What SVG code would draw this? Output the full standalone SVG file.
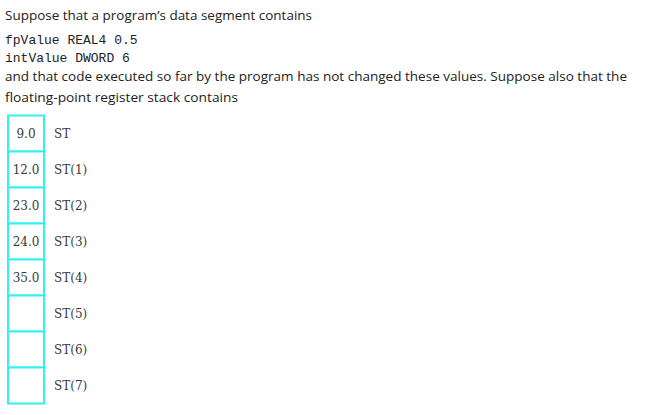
<svg xmlns="http://www.w3.org/2000/svg" width="650" height="415" viewBox="0 0 650 415">
<style>
.p{font-family:"Open Sans","DejaVu Sans",sans-serif;font-size:13px;fill:#222}
.m{font-family:"Liberation Mono","Courier New",monospace;font-size:13px;fill:#222}
.cell{fill:#fff;stroke:#33f0f5;stroke-width:2}
.v{font-family:"DejaVu Serif",serif;font-size:12px;fill:#3a3a3a;text-anchor:middle}
.l{font-family:"DejaVu Serif",serif;font-size:12px;fill:#3a3a3a}
</style>
<rect width="650" height="415" fill="#fff"/>
<text class="p" x="5" y="20" textLength="307" lengthAdjust="spacingAndGlyphs">Suppose that a program’s data segment contains</text>
<text class="m" x="5" y="44">fpValue REAL4 0.5</text>
<text class="m" x="5" y="62">intValue DWORD 6</text>
<text class="p" x="5" y="81" textLength="622" lengthAdjust="spacingAndGlyphs">and that code executed so far by the program has not changed these values. Suppose also that the</text>
<text class="p" x="5" y="102" textLength="233" lengthAdjust="spacingAndGlyphs">floating-point register stack contains</text>
<g id="st0"><rect class="cell" x="8" y="115.5" width="36" height="36"/><text class="v" x="26" y="138">9.0</text><text class="l" x="54" y="138">ST</text></g>
<g id="st1"><rect class="cell" x="8" y="151.5" width="36" height="36"/><text class="v" x="26" y="174">12.0</text><text class="l" x="54" y="174">ST(1)</text></g>
<g id="st2"><rect class="cell" x="8" y="187.5" width="36" height="36"/><text class="v" x="26" y="210">23.0</text><text class="l" x="54" y="210">ST(2)</text></g>
<g id="st3"><rect class="cell" x="8" y="223.5" width="36" height="36"/><text class="v" x="26" y="246">24.0</text><text class="l" x="54" y="246">ST(3)</text></g>
<g id="st4"><rect class="cell" x="8" y="259.5" width="36" height="36"/><text class="v" x="26" y="282">35.0</text><text class="l" x="54" y="282">ST(4)</text></g>
<g id="st5"><rect class="cell" x="8" y="295.5" width="36" height="36"/><text class="l" x="54" y="318">ST(5)</text></g>
<g id="st6"><rect class="cell" x="8" y="331.5" width="36" height="36"/><text class="l" x="54" y="354">ST(6)</text></g>
<g id="st7"><rect class="cell" x="8" y="367.5" width="36" height="36"/><text class="l" x="54" y="390">ST(7)</text></g>
<g id="connectors"/>
</svg>
